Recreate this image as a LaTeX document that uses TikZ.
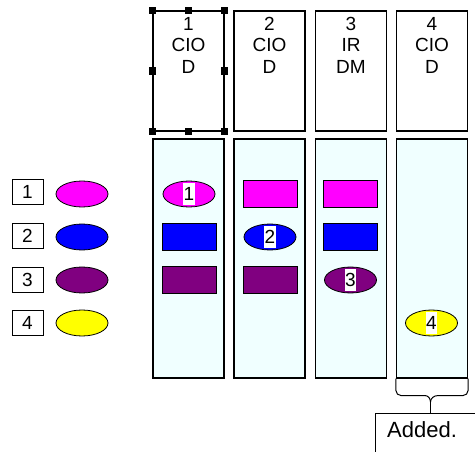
\documentclass[tikz,border=0pt]{standalone}
\usepackage{fontspec}
\setmainfont{Liberation Sans}
\usetikzlibrary{shapes.geometric}
\definecolor{bodyfill}{RGB}{240,255,255}
\definecolor{mag}{RGB}{255,0,255}
\definecolor{blu}{RGB}{0,0,255}
\definecolor{pur}{RGB}{128,0,128}
\definecolor{yel}{RGB}{255,255,0}
\begin{document}
\begin{tikzpicture}[x=1pt,y=-1pt,
  hdr/.style={draw, line width=1.1pt, minimum width=71pt, minimum height=120pt, inner sep=0pt},
  body/.style={draw, line width=1.1pt, fill=bodyfill, minimum width=71pt, minimum height=239pt, inner sep=0pt},
  htext/.style={anchor=north, align=center, inner sep=0pt, font=\fontsize{19}{21.5}\selectfont},
  ell/.style={ellipse, draw, line width=0.8pt, minimum width=52pt, minimum height=26pt, inner sep=0pt},
  rec/.style={draw, line width=0.8pt, minimum width=54pt, minimum height=27pt, inner sep=0pt},
  lbox/.style={draw, line width=1pt, minimum width=31pt, minimum height=25pt, inner sep=0pt, font=\fontsize{19}{19}\selectfont},
  dig/.style={fill=white, inner xsep=0.3pt, inner ysep=0pt, minimum height=22pt, font=\fontsize{19}{19}\selectfont},
  handle/.style={fill=black, minimum size=7.5pt, inner sep=0pt},
  conn/.style={line width=1pt}
]
\useasboundingbox (0,0) rectangle (475,452);
\clip (0,0) rectangle (475,452);

% header boxes
\node[hdr] (h1) at (188.5,71) {};
\node[hdr] (h2) at (269.5,71) {};
\node[hdr] (h3) at (351,71) {};
\node[hdr] (h4) at (432,71) {};
\node[htext] (t1) at (188.5,17) {1\\CIO\\D};
\node[htext] (t2) at (269.5,17) {2\\CIO\\D};
\node[htext] (t3) at (351,17) {3\\IR\\DM};
\node[htext] (t4) at (432,17) {4\\CIO\\D};

% selection handles on header 1
\foreach \a [count=\i] in {north west,north,north east,west,east,south west,south,south east}
  \node[handle] (hd\i) at (h1.\a) {};

% body columns
\node[body] (b1) at (188.5,258.5) {};
\node[body] (b2) at (269.5,258.5) {};
\node[body] (b3) at (351,258.5) {};
\node[body] (b4) at (432,258.5) {};

% legend
\node[lbox] (l1) at (27.5,192) {1};
\node[lbox] (l2) at (27.5,236) {2};
\node[lbox] (l3) at (27.5,280) {3};
\node[lbox] (l4) at (27.5,323) {4};
\node[ell, fill=mag] (e1) at (82,194) {};
\node[ell, fill=blu] (e2) at (82,237) {};
\node[ell, fill=pur] (e3) at (82,280) {};
\node[ell, fill=yel] (e4) at (82,323) {};

% column 1
\node[ell, fill=mag] (c1a) at (189,194) {};
\node[dig] (d1) at (c1a) {1};
\node[rec, fill=blu] (c1b) at (189,237) {};
\node[rec, fill=pur] (c1c) at (189,280) {};
% column 2
\node[rec, fill=mag] (c2a) at (270,194) {};
\node[ell, fill=blu] (c2b) at (270,237) {};
\node[dig] (d2) at (c2b) {2};
\node[rec, fill=pur] (c2c) at (270,280) {};
% column 3
\node[rec, fill=mag] (c3a) at (350.5,194) {};
\node[rec, fill=blu] (c3b) at (350.5,237) {};
\node[ell, fill=pur] (c3c) at (350.5,280) {};
\node[dig] (d3) at (c3c) {3};
% column 4
\node[ell, fill=yel] (c4d) at (431.5,323) {};
\node[dig] (d4) at (c4d) {4};

% brace under column 4 and label box
\coordinate (tip) at (430.5,402);
\coordinate (boxtop) at (430.5,413);
\draw[conn] (b4.south west) -- ++(0,12) to[out=-90,in=180] ++(5,5) -- ++(24,0) to[out=0,in=90] (tip);
\draw[conn] (b4.south east) -- ++(0,12) to[out=-90,in=0] ++(-5,5) -- ++(-25,0) to[out=180,in=90] (tip);
\draw[conn] (tip) -- (boxtop);
\node[anchor=base west, inner sep=0pt, font=\fontsize{22}{22}\selectfont] (added) at (387,437) {Added.};
\draw[conn] (480,413) -- (375,413) -- (375,460);
\end{tikzpicture}
\end{document}
